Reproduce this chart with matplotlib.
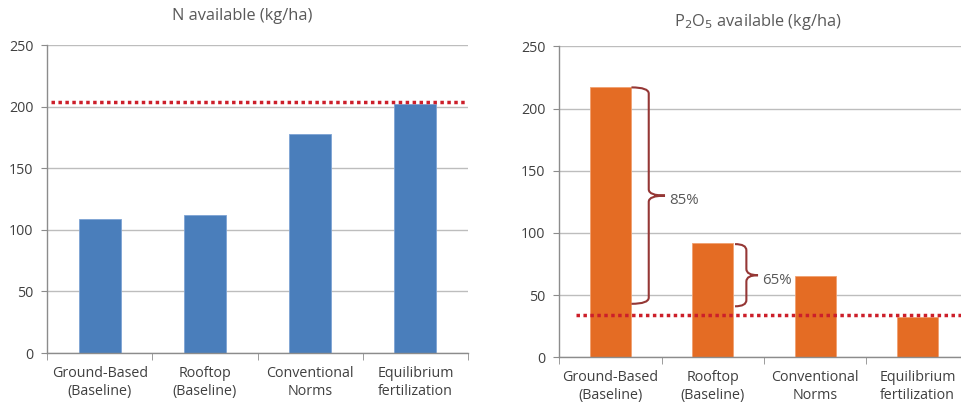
import numpy as np
import matplotlib
matplotlib.use('Agg')
import matplotlib.pyplot as plt
from matplotlib.path import Path
from matplotlib.patches import PathPatch

plt.rcParams['font.family'] = ['Open Sans', 'DejaVu Sans']

CATEGORIES = ['Ground-Based\n(Baseline)', 'Rooftop\n(Baseline)',
              'Conventional\nNorms', 'Equilibrium\nfertilization']
N_AVAILABLE = [109, 112, 178, 202]
P2O5_AVAILABLE = [217, 92, 65, 32]
N_LIMIT = 203.5
P2O5_LIMIT = 34

# braces on the P2O5 chart: (top, bottom, label)
BRACES = [(217, 43, '85%'), (91, 41, '65%')]

BLUE = '#4a7ebb'
ORANGE = '#e46c24'
RED = '#cc1f2a'
BRACE = '#953735'
GRID = '#bdbdbd'
TEXT = '#404040'


def style_axes(ax):
    ax.set_ylim(0, 250)
    ax.set_xlim(-0.5, len(CATEGORIES) - 0.5)
    ax.set_yticks(np.arange(0, 251, 50))
    ax.yaxis.grid(True, color=GRID, linewidth=1.0)
    ax.set_axisbelow(True)
    for s in ['top', 'right']:
        ax.spines[s].set_visible(False)
    for s in ['left', 'bottom']:
        ax.spines[s].set_color('#8c8c8c')
        ax.spines[s].set_linewidth(1.0)
    ax.set_xticks(range(len(CATEGORIES)))
    ax.set_xticklabels(CATEGORIES, fontsize=10.3, color=TEXT, linespacing=1.3)
    ax.tick_params(axis='x', which='major', length=0, pad=9)
    ax.set_xticks(np.arange(-0.5, len(CATEGORIES)), minor=True)
    ax.tick_params(axis='x', which='minor', length=5, color='#8c8c8c')
    ax.tick_params(axis='y', length=4, color='#8c8c8c', labelsize=10.3,
                   labelcolor=TEXT, pad=6)


def brace(ax, x0, xv, xt, top, bot, r=5):
    mid = (top + bot) / 2
    verts = [(x0, top), (xv, top), (xv, top - r),
             (xv, mid + r), (xv, mid), (xt, mid),
             (xv, mid), (xv, mid - r),
             (xv, bot + r), (xv, bot), (x0, bot)]
    codes = [Path.MOVETO, Path.CURVE3, Path.CURVE3,
             Path.LINETO, Path.CURVE3, Path.CURVE3,
             Path.CURVE3, Path.CURVE3,
             Path.LINETO, Path.CURVE3, Path.CURVE3]
    ax.add_patch(PathPatch(Path(verts, codes), fill=False,
                           edgecolor=BRACE, linewidth=1.5, zorder=4))


fig = plt.figure(figsize=(9.62, 4.03), dpi=100)

# --- N ---
ax1 = fig.add_axes([0.0489, 0.124, 0.4376, 0.764])
x = np.arange(len(CATEGORIES))
ax1.bar(x, N_AVAILABLE, width=0.4, color=BLUE, edgecolor='#7da3d4',
        linewidth=0.6, zorder=2)
ax1.axhline(N_LIMIT, xmin=0.01, color=RED, linewidth=2.5,
            linestyle=(0, (1, 1)), dash_capstyle='butt', zorder=3)
style_axes(ax1)
fig.text(242 / 962, 1 - 16 / 403, 'N available (kg/ha)', ha='center',
         va='center', fontsize=11.8, color='#595959')

# --- P2O5 ---
ax2 = fig.add_axes([0.5814, 0.1134, 0.4255, 0.7716])
ax2.bar(x, P2O5_AVAILABLE, width=0.4, color=ORANGE, edgecolor='#f0a070',
        linewidth=0.6, zorder=2)
ax2.axhline(P2O5_LIMIT, xmin=0.04, color=RED, linewidth=2.5,
            linestyle=(0, (1, 1)), dash_capstyle='butt', zorder=3)
style_axes(ax2)
fig.text(758 / 962, 1 - 22 / 403, r'P$_2$O$_5$ available (kg/ha)',
         ha='center', va='center', fontsize=11.8, color='#595959')

brace_x = [(0.205, 0.374, 0.533), (1.217, 1.328, 1.442)]
for (top, bot, label), (x0, xv, xt) in zip(BRACES, brace_x):
    brace(ax2, x0, xv, xt, top, bot)
    ax2.text(xt + 0.04, (top + bot) / 2 - 4, label, ha='left', va='center',
             fontsize=10.8, color='#595959', zorder=5)

fig.savefig('out.png', dpi=100)
